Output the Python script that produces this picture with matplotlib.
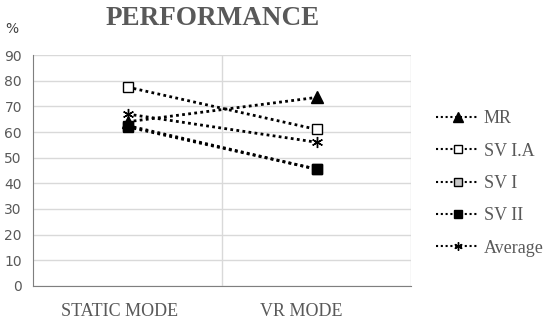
import matplotlib.pyplot as plt
from matplotlib.lines import Line2D

# data
CATEGORIES = ["STATIC MODE", "VR MODE"]
MR = [64, 73.5]
SV_IA = [77.5, 61]
SV_I = [62.5, 45.5]
SV_II = [62, 45.5]
AVERAGE = [67, 56]

SERIES_NAMES = ["MR", "SV I.A", "SV I", "SV II", "Average"]
SERIES_VALUES = [MR, SV_IA, SV_I, SV_II, AVERAGE]
MARKERS = ['^', 's', 's', 's', (6, 2, 0)]
FACES = ['black', 'white', '#c8c8c8', 'black', 'black']
SIZES = [9, 7.5, 7.5, 7.5, 8]

GRID = '#d9d9d9'
TEXT = '#595959'


def main():
    fig = plt.figure(figsize=(5.5, 3.22), dpi=100)
    ax = fig.add_axes([0.06, 0.112, 0.688, 0.717])
    x = list(range(len(CATEGORIES)))

    handles = []
    for vals, name, mk, fc, ms in zip(SERIES_VALUES, SERIES_NAMES, MARKERS, FACES, SIZES):
        ax.plot(x, vals, linestyle=(0, (1, 1.2)), linewidth=2, color='black',
                marker=mk, markersize=ms, markerfacecolor=fc,
                markeredgecolor='black', markeredgewidth=1, zorder=3)
        handles.append(Line2D([], [], linestyle=(0, (1, 1.3)), linewidth=1.5, color='black',
                              marker=mk, markersize=ms - 2, markerfacecolor=fc,
                              markeredgecolor='black', markeredgewidth=1, label=name))

    ax.set_xlim(-0.5, 1.5)
    ax.set_ylim(0, 90)
    ax.set_yticks(range(0, 91, 10))
    ax.set_xticks([-0.04, 0.92])
    ax.set_xticklabels(CATEGORIES)
    for lab in ax.get_xticklabels():
        lab.set_fontfamily('Liberation Serif')
        lab.set_fontsize(13)
        lab.set_color(TEXT)
    ax.tick_params(axis='x', length=0, pad=12)
    ax.tick_params(axis='y', length=0, pad=8, labelsize=10, labelcolor=TEXT)

    ax.yaxis.grid(True, color=GRID, linewidth=1)
    for xv in [0.5, 1.5]:
        ax.axvline(xv, color=GRID, linewidth=1, zorder=0)
    ax.set_axisbelow(True)
    for s in ['top', 'right']:
        ax.spines[s].set_visible(False)
    ax.spines['left'].set_color('#7f7f7f')
    ax.spines['bottom'].set_color('#7f7f7f')

    fig.text(0.386, 0.942, "PERFORMANCE", ha='center', va='center',
             family='Liberation Serif', fontweight='bold', fontsize=19.5, color=TEXT)
    fig.text(0.022, 0.91, "%", ha='center', va='center', fontsize=10, color='#404040')

    leg = fig.legend(handles=handles, loc='center left', bbox_to_anchor=(0.793, 0.43),
                     frameon=False, handlelength=2.4, handletextpad=0.25,
                     labelspacing=0.85, numpoints=1, borderpad=0, borderaxespad=0,
                     prop={'family': 'Liberation Serif', 'size': 13})
    for t in leg.get_texts():
        t.set_color(TEXT)

    plt.savefig("out.png", dpi=100)
    plt.close()


main()
